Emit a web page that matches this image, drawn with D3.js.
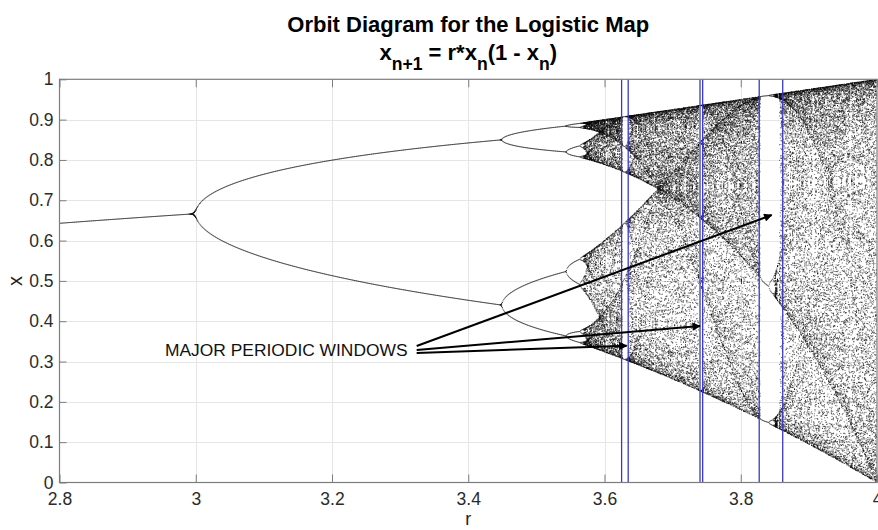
<!DOCTYPE html>
<html>
<head>
<meta charset="utf-8">
<script src="https://cdn.jsdelivr.net/npm/d3@7"></script>
<style>
  html, body { margin: 0; padding: 0; background: #fff; }
  svg { display: block; }
  text { font-family: "Liberation Sans", Arial, Helvetica, sans-serif; }
</style>
</head>
<body>
<svg id="chart" width="878" height="530"></svg>
<script>
// ---- chart inputs ----------------------------------------------------
const rDomain = [2.8, 4];
const xDomain = [0, 1];
const rTicks = [2.8, 3, 3.2, 3.4, 3.6, 3.8, 4];
const xTicks = [0, 0.1, 0.2, 0.3, 0.4, 0.5, 0.6, 0.7, 0.8, 0.9, 1];

// orbit sampling: r step, discarded transient iterations, kept iterations
const rStep = [0.001];
const transientIters = [600];
const keptIters = [110];
const startValue = [0.5];

// vertical markers bracketing the periodic windows (r values)
const windowLines = [3.6251, 3.6348, 3.7402, 3.7441, 3.8271, 3.8616];

// annotation: label anchor and arrows [r, x]
const noteText = ["MAJOR PERIODIC WINDOWS"];
const noteAnchor = [2.9549, 0.3137];
const arrowTails = [[3.3243, 0.3385], [3.3243, 0.3286], [3.3243, 0.3212]];
const arrowHeads = [[3.8454, 0.6634], [3.7402, 0.3881], [3.6326, 0.3393]];

// ---- layout ----------------------------------------------------------
const W = 878, H = 530;
const plot = { left: 59.5, right: 877, top: 79.3, bottom: 482.5 };

const xScale = d3.scaleLinear().domain(rDomain).range([plot.left, plot.right]);
const yScale = d3.scaleLinear().domain(xDomain).range([plot.bottom, plot.top]);

const svg = d3.select("#chart");

// grid
const grid = svg.append("g").attr("stroke", "#e6e6e6").attr("stroke-width", 1);
grid.selectAll("line.v").data(rTicks.slice(1, -1)).join("line")
  .attr("x1", d => Math.round(xScale(d)) + 0.5).attr("x2", d => Math.round(xScale(d)) + 0.5)
  .attr("y1", plot.top).attr("y2", plot.bottom);
grid.selectAll("line.h").data(xTicks.slice(1, -1)).join("line")
  .attr("y1", d => Math.round(yScale(d)) + 0.5).attr("y2", d => Math.round(yScale(d)) + 0.5)
  .attr("x1", plot.left).attr("x2", plot.right);

// ---- orbit points (rendered to a bitmap, then placed in the svg) -----
const canvas = document.createElement("canvas");
canvas.width = W; canvas.height = H;
const ctx = canvas.getContext("2d");
ctx.fillStyle = "rgba(0,0,0,0.62)";
const nR = Math.round((rDomain[1] - rDomain[0]) / rStep[0]);
for (let i = 0; i <= nR; i++) {
  const r = rDomain[0] + i * rStep[0];
  let x = startValue[0];
  for (let k = 0; k < transientIters[0]; k++) x = r * x * (1 - x);
  const seen = new Set();
  const px = xScale(r);
  for (let k = 0; k < keptIters[0]; k++) {
    x = r * x * (1 - x);
    const key = Math.round(x * 4000);
    if (seen.has(key)) continue;
    seen.add(key);
    ctx.fillRect(px - 0.5, yScale(x) - 0.5, 1, 1);
  }
}
svg.append("clipPath").attr("id", "plotClip").append("rect")
  .attr("x", plot.left).attr("y", plot.top)
  .attr("width", plot.right - plot.left).attr("height", plot.bottom - plot.top);
svg.append("image")
  .attr("href", canvas.toDataURL("image/png"))
  .attr("x", 0).attr("y", 0).attr("width", W).attr("height", H)
  .attr("clip-path", "url(#plotClip)");

// window markers
svg.append("g").selectAll("line").data(windowLines).join("line")
  .attr("x1", d => xScale(d)).attr("x2", d => xScale(d))
  .attr("y1", plot.top).attr("y2", plot.bottom)
  .attr("stroke", "#3a3ac4").attr("stroke-width", 1.3);

// arrows
const defs = svg.append("defs");
defs.append("marker").attr("id", "head")
  .attr("viewBox", "0 0 10 10").attr("refX", 9).attr("refY", 5)
  .attr("markerWidth", 5.5).attr("markerHeight", 4.2)
  .attr("markerUnits", "strokeWidth").attr("orient", "auto")
  .append("path").attr("d", "M0,0 L10,5 L0,10 z").attr("fill", "#000");
svg.append("g").selectAll("line").data(arrowTails).join("line")
  .attr("x1", d => xScale(d[0])).attr("y1", d => yScale(d[1]))
  .attr("x2", (d, i) => xScale(arrowHeads[i][0])).attr("y2", (d, i) => yScale(arrowHeads[i][1]))
  .attr("stroke", "#000").attr("stroke-width", 2)
  .attr("marker-end", "url(#head)");

svg.append("text")
  .attr("x", xScale(noteAnchor[0])).attr("y", yScale(noteAnchor[1]))
  .attr("font-size", 17.4).attr("fill", "#111")
  .text(noteText[0]);

// ---- axes box and ticks ---------------------------------------------
const axisColor = "#7d7d7d";
svg.append("rect")
  .attr("x", plot.left).attr("y", plot.top)
  .attr("width", plot.right - plot.left).attr("height", plot.bottom - plot.top)
  .attr("fill", "none").attr("stroke", axisColor).attr("stroke-width", 1.2);

const xAxis = d3.axisBottom(xScale).tickValues(rTicks).tickSizeInner(-8).tickSizeOuter(0)
  .tickPadding(10.5).tickFormat(d3.format("~g"));
const gx = svg.append("g").attr("transform", `translate(0,${plot.bottom})`).call(xAxis);
const xAxisTop = d3.axisTop(xScale).tickValues(rTicks).tickSizeInner(-8).tickSizeOuter(0).tickFormat("");
const gxt = svg.append("g").attr("transform", `translate(0,${plot.top})`).call(xAxisTop);

const yAxis = d3.axisLeft(yScale).tickValues(xTicks).tickSizeInner(-7).tickSizeOuter(0)
  .tickPadding(6).tickFormat(d3.format("~g"));
const gy = svg.append("g").attr("transform", `translate(${plot.left},0)`).call(yAxis);

[gx, gxt, gy].forEach(g => {
  g.select(".domain").remove();
  g.selectAll(".tick line").attr("stroke", axisColor);
  g.selectAll(".tick text").attr("font-size", 17.5).attr("fill", "#2b2b2b")
    .attr("font-family", "'Liberation Sans', Arial, sans-serif");
});

// axis labels
svg.append("text").attr("x", (plot.left + plot.right) / 2).attr("y", 525)
  .attr("text-anchor", "middle").attr("font-size", 18).attr("fill", "#222").text("r");
svg.append("text").attr("transform", `translate(22,${yScale(0.5)}) rotate(-90)`)
  .attr("text-anchor", "middle").attr("font-size", 20).attr("fill", "#222").text("x");

// ---- title ----------------------------------------------------------
const cx = (plot.left + plot.right) / 2;
svg.append("text").attr("x", cx).attr("y", 32).attr("text-anchor", "middle")
  .attr("font-size", 22).attr("font-weight", "bold").attr("fill", "#000")
  .text("Orbit Diagram for the Logistic Map");

const t2 = svg.append("text").attr("x", cx).attr("y", 60).attr("text-anchor", "middle")
  .attr("font-size", 22).attr("font-weight", "bold").attr("fill", "#000");
const parts = [
  ["x", false], ["n+1", true], [" = r*x", false], ["n", true],
  ["(1 - x", false], ["n", true], [")", false]
];
let shifted = false;
parts.forEach(([s, sub]) => {
  const ts = t2.append("tspan").text(s);
  if (sub) { ts.attr("dy", 10).attr("font-size", 17.6); shifted = true; }
  else if (shifted) { ts.attr("dy", -10); shifted = false; }
});
</script>
</body>
</html>
